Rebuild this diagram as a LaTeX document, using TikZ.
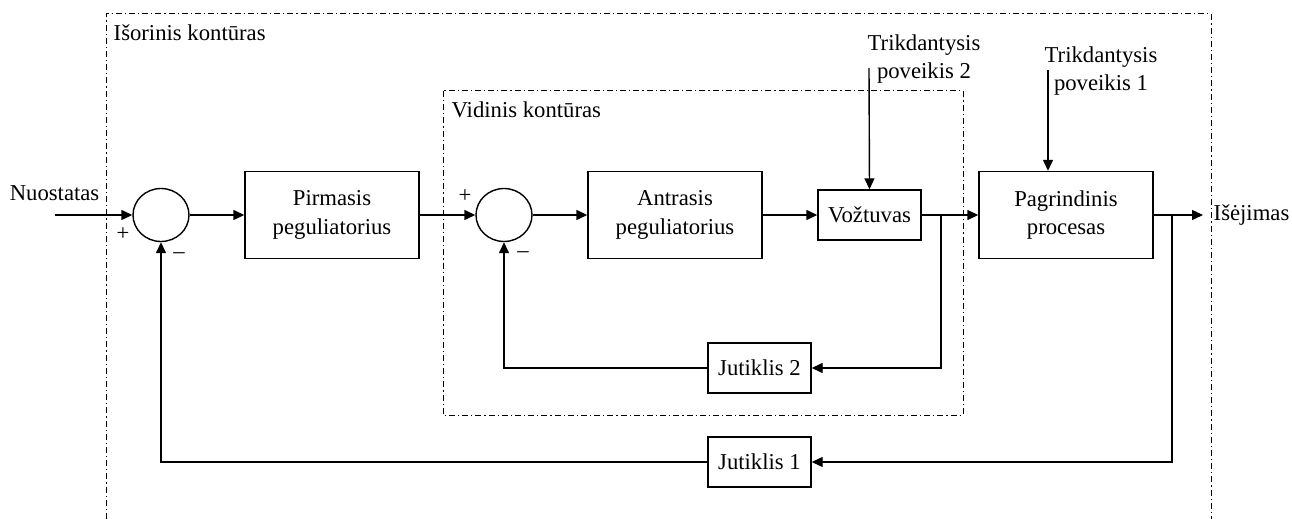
\documentclass[tikz,border=0pt]{standalone}
\usepackage{fontspec}
\setmainfont{Liberation Serif}
\usetikzlibrary{arrows.meta,shapes.geometric,positioning}

\begin{document}
\begin{tikzpicture}[x=0.5pt,y=-0.5pt,
		font=\fontsize{11.35}{14.4}\selectfont,
		line width=0.7pt,
		>={Triangle[length=5.5pt,width=5pt]},
		block/.style={draw,rectangle,align=center,minimum width=87pt,minimum height=43.5pt,inner sep=1pt},
		sensor/.style={draw,rectangle,align=center,minimum width=51.5pt,minimum height=25pt,inner sep=1pt},
		sumnode/.style={draw,ellipse,minimum width=28pt,minimum height=26.5pt,inner sep=0pt},
		sign/.style={inner sep=0pt},
		loopbox/.style={line width=0.5pt,dash pattern=on 3pt off 1.5pt on 0.6pt off 1.5pt}]
		\useasboundingbox (0,0) rectangle (1292,519);

		% contours
		\draw[loopbox] (106,519) -- (106,14) -- (1211,14) -- (1211,519);
		\draw[loopbox] (443,91) rectangle (963,415);
		\node[anchor=west,inner sep=0pt] (outlbl) at (113,33) {Išorinis kontūras};
		\node[anchor=west,inner sep=0pt] (inlbl) at (451,110) {Vidinis kontūras};

		% blocks
		\node[sumnode] (sum1) at (161,215) {};
		\node[block] (pirm) at (332,215) {Pirmasis\\peguliatorius};
		\node[sumnode] (sum2) at (504,215) {};
		\node[block] (antr) at (675,215) {Antrasis\\peguliatorius};
		\node[sensor] (vozt) at (869.5,215) {Vožtuvas};
		\node[block] (pagr) at (1066,215) {Pagrindinis\\procesas};
		\node[sensor] (jut2) at (759.5,368) {Jutiklis 2};
		\node[sensor] (jut1) at (759.5,462) {Jutiklis 1};

		\node[sign] (p1) at (123,234) {+};
		\node[sign] (m1) at (179,256) {–};
		\node[sign] (p2) at (465,196) {+};
		\node[sign] (m2) at (523,255) {–};

		% signals
		\coordinate (inp) at (55,215);
		\coordinate (outp) at (1203,215);
		\coordinate (t2) at (941,215);
		\coordinate (t1) at (1172,215);
		\coordinate (d2) at (869,68);
		\coordinate (d1) at (1048,70);
		\node[anchor=base east,inner sep=0pt] (setp) at (100,200) {Nuostatas};
		\node[right=5pt of outp,inner sep=0pt] (outsig) {Išėjimas};
		\node[align=center,inner sep=0pt] (dist2) at (924,59) {Trikdantysis\\poveikis 2};
		\node[align=center,inner sep=0pt] (dist1) at (1101,71) {Trikdantysis\\poveikis 1};

		\draw[->] (inp) -- (sum1);
		\draw[->] (sum1) -- (pirm);
		\draw[->] (pirm) -- (sum2);
		\draw[->] (sum2) -- (antr);
		\draw[->] (antr) -- (vozt);
		\draw[->] (vozt) -- (pagr);
		\draw[->] (pagr) -- (outp);
		\draw[->] (d2) -- (vozt.north);
		\draw[->] (d1) -- (d1 |- pagr.north);
		\draw[->] (t2) |- (jut2.east);
		\draw[->] (jut2.west) -| (sum2.south);
		\draw[->] (t1) |- (jut1.east);
		\draw[->] (jut1.west) -| (sum1.south);
	\end{tikzpicture}
\end{document}
